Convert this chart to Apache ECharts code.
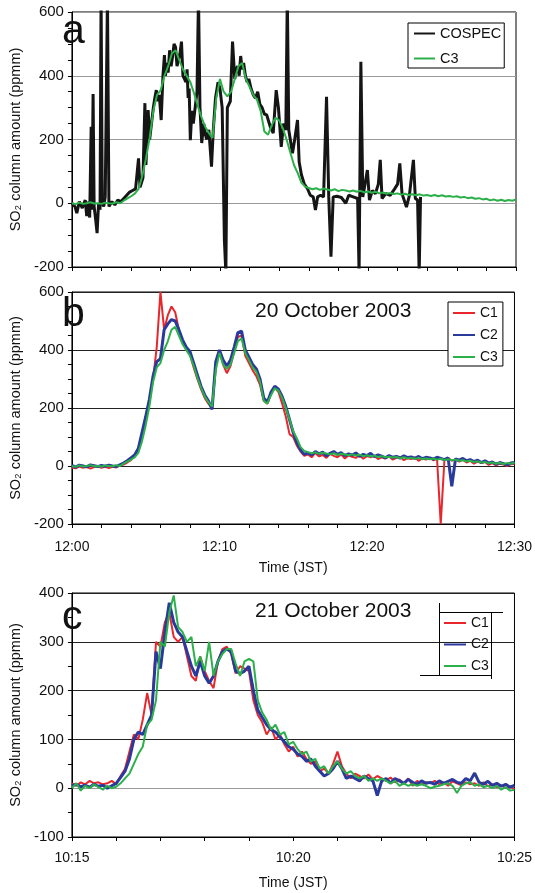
<!DOCTYPE html>
<html><head><meta charset="utf-8">
<script src="https://cdn.jsdelivr.net/npm/echarts@6/dist/echarts.min.js"></script>
<style>html,body{margin:0;padding:0;background:#fff}#c{width:535px;height:893px}</style>
</head><body><div id="c"></div>
<script>
// ---- 20 October 2003, minutes after 12:00, sampled every 0.25 min ----
const stepOct20 = 0.25;
const c1Oct20 = [-5,-8,-2,-6,-3,-9,-4,0,-6,-2,-7,-3,-5,2,
  5,12,20,35,60,110,165,225,300,410,600,470,520,550,530,470,430,400,385,340,300,265,235,215,200,
  350,395,350,320,345,395,445,450,380,355,330,310,280,225,215,250,270,255,215,170,110,100,70,50,35,
  40,30,45,33,38,28,42,35,30,40,26,36,32,28,38,25,34,30,36,24,30,26,33,22,28,32,20,27,24,30,18,26,22,28,20,25,
  -200,20,28,18,24,
  15,22,12,18,8,15,10,14,4,10,2,8,5,0,6,8];
const c2Oct20 = [2,-4,3,0,-3,4,1,-2,2,-1,3,0,-2,4,
  10,18,28,38,60,115,170,230,310,360,370,470,490,505,500,470,435,410,395,355,315,275,245,225,195,
  360,400,365,345,365,410,460,465,400,375,350,335,300,235,220,255,275,265,240,205,160,115,80,55,40,
  45,38,50,42,48,35,44,50,40,46,36,42,38,45,33,40,36,44,32,38,34,28,36,30,33,27,35,29,31,26,33,25,30,28,24,30,
  26,22,28,-70,24,
  20,26,18,22,15,20,12,18,10,14,6,12,8,4,10,12];
const c3Oct20 = [0,-3,2,-2,0,3,-1,0,-2,2,0,-1,3,0,
  8,15,22,30,45,85,140,205,290,340,355,400,430,470,480,450,420,400,380,345,305,270,240,220,205,
  330,390,350,335,350,390,430,440,390,365,340,325,290,225,215,245,268,260,235,200,160,120,95,65,52,
  48,44,47,42,46,43,40,44,38,42,40,37,40,36,39,34,37,33,36,31,34,30,32,29,31,27,30,26,28,25,28,24,26,23,26,22,
  25,21,23,20,22,
  18,20,16,18,14,16,12,14,9,12,8,11,7,10,8,12];
// COSPEC (panel a), irregular times (minutes after 12:00)
const cospecTime = [0,0.2,0.33,0.5,0.7,0.9,1.0,1.1,1.2,1.3,1.35,1.43,1.5,1.6,1.7,1.8,1.9,1.97,2.05,2.15,2.25,2.4,2.5,2.7,2.9,3.1,3.3,3.5,3.7,3.9,4.1,4.3,
  4.5,4.6,4.8,4.93,5.0,5.15,5.25,5.4,5.5,5.6,5.7,5.8,5.9,6.03,6.15,6.25,6.32,6.4,6.5,6.6,6.7,6.8,6.9,7.0,7.1,7.2,7.3,7.4,7.5,7.6,7.7,7.78,7.85,7.92,8.0,8.1,8.2,8.3,8.45,8.55,8.65,8.77,8.9,9.0,9.1,9.25,9.43,9.55,9.7,9.87,
  10.0,10.15,10.3,10.4,10.5,10.7,10.85,11.0,11.1,11.2,11.3,11.4,11.5,11.6,11.72,11.84,11.95,12.1,12.25,12.4,12.55,12.7,12.85,13.0,13.16,13.4,13.6,13.8,13.95,14.14,14.3,14.45,14.55,14.65,14.9,15.05,15.24,15.35,15.5,15.7,15.9,
  16.1,16.3,16.45,16.6,16.8,17.0,17.2,17.35,17.5,17.65,17.9,18.2,18.5,18.7,19.0,19.3,19.4,19.52,19.65,19.8,19.96,20.1,20.3,20.5,20.7,20.83,20.95,21.2,21.5,21.8,22.0,22.15,22.3,22.6,22.8,23.07,23.2,23.35,23.46,23.55];
const cospecValue = [0,-10,-31,5,-15,10,-40,5,-45,240,-20,343,-10,-50,-94,0,-20,650,0,-10,20,650,-10,5,-5,10,5,15,25,35,40,45,
  141,50,80,314,120,292,200,260,300,330,355,320,340,261,400,465,400,440,410,480,430,460,500,490,430,450,470,507,400,390,380,420,330,360,198,290,250,250,350,650,300,189,250,220,200,230,115,230,330,380,
  360,300,-115,-220,300,320,507,390,420,430,400,462,420,440,400,380,390,360,340,330,350,310,300,280,277,240,220,355,300,177,250,230,650,230,157,200,261,130,90,60,47,
  25,20,-21,20,25,20,334,20,-168,20,22,18,0,25,20,15,-220,444,20,60,104,10,40,30,60,136,15,30,25,45,60,125,30,-12,25,136,15,10,-220,20];

// ---- 21 October 2003, minutes after 10:15, sampled every 0.1 min ----
const stepOct21 = 0.1;
const c1Oct21 = [10,5,12,8,15,10,12,8,10,15,8,
  25,40,75,110,100,140,195,150,300,290,
  340,360,310,300,310,270,230,220,270,240,
  220,205,260,285,290,275,235,250,245,240,
  180,150,135,110,125,100,110,90,75,85,
  65,75,60,50,55,35,40,30,50,75,
  45,30,20,30,25,20,28,18,25,20,
  15,22,12,18,10,20,5,15,8,12,
  10,15,8,12,5,14,10,6,12,8,
  10,5,12,4,8,2,6,0,4,-2];
const c2Oct21 = [5,8,3,6,2,8,4,6,0,5,10,
  22,35,60,100,115,110,130,150,280,245,
  320,380,340,320,310,280,250,230,260,230,
  215,230,260,280,285,280,240,235,240,250,
  200,160,145,130,120,115,105,95,85,80,
  70,65,55,60,45,35,25,30,40,55,
  40,20,25,20,15,25,20,15,-15,15,
  20,10,20,15,10,18,12,8,15,10,
  12,8,15,10,14,18,12,10,20,15,
  31,12,8,14,6,10,4,8,2,6];
const c3Oct21 = [0,10,-5,5,0,8,2,-3,5,0,3,
  10,20,30,50,70,85,130,140,180,300,
  290,360,395,330,320,300,310,250,270,240,
  300,230,260,275,285,285,255,230,260,265,
  260,180,155,140,120,130,110,115,90,95,
  80,70,75,55,60,40,45,30,45,55,
  40,30,35,25,20,25,15,20,15,20,
  15,10,15,5,10,5,8,5,8,5,
  0,3,5,8,10,5,-10,5,10,12,
  5,8,2,5,0,5,-3,2,-5,-3];

const yTicksTop = [-200, 600, 200];   // min, max, interval (panels a, b)
const yTicksBottom = [-100, 400, 100]; // panel c

const FONT = '"Liberation Sans", Arial, sans-serif';
const RED = '#e8262b', BLUE = '#2a3a9c', GREEN = '#2bb04a', BLACK = '#151515';

function toPairs(vals, step) { return vals.map((v, i) => [Math.round(i * step * 100) / 100, v]); }
const cospecPairs = cospecTime.map((t, i) => [t, cospecValue[i]]);

function line(name, data, idx, color, width, z) {
  return { type: 'line', name, xAxisIndex: idx, yAxisIndex: idx, data, symbol: 'none', showSymbol: false,
    lineStyle: { color, width }, itemStyle: { color }, z, animation: false, clip: true };
}

const pad = n => String(n).padStart(2, '0');
function xAxis(idx, max, interval, fmt, labelMargin, nameGap) {
  return { gridIndex: idx, type: 'value', min: 0, max, interval,
    axisLine: { show: true, onZero: false, lineStyle: { color: '#000', width: 1 } },
    axisTick: { show: true, length: 4, lineStyle: { color: '#000' } },
    axisLabel: fmt ? { show: true, formatter: fmt, color: '#111', fontSize: 14, fontFamily: FONT, margin: labelMargin } : { show: false },
    splitLine: { show: false },
    name: fmt ? 'Time (JST)' : '', nameLocation: 'middle', nameGap: nameGap,
    nameTextStyle: { color: '#111', fontSize: 14, fontFamily: FONT } };
}
function yAxis(idx, ticks, splitColor) {
  return { gridIndex: idx, type: 'value', min: ticks[0], max: ticks[1], interval: ticks[2],
    axisLine: { show: true, onZero: false, lineStyle: { color: '#000', width: 1 } },
    axisTick: { show: true, length: 4, lineStyle: { color: '#000' } },
    minorTick: { show: true, splitNumber: ticks[2] === 200 ? 4 : 2, length: 4, lineStyle: { color: '#000' } },
    axisLabel: { color: '#111', fontSize: 15, fontFamily: FONT, margin: 8 },
    splitLine: { show: true, lineStyle: { color: splitColor, width: 1 } },
    name: 'SO\u2082 column amount (ppmm)', nameLocation: 'middle', nameGap: 37,
    nameTextStyle: { color: '#111', fontSize: 14.5, fontFamily: FONT } };
}

const hiddenSymbol = { color: 'rgba(0,0,0,0)', borderColor: 'rgba(0,0,0,0)', borderWidth: 0 };

const chart = echarts.init(document.getElementById('c'), null, { renderer: 'canvas' });
const gridBase = { left: 60, width: 456, show: true, borderColor: '#000', borderWidth: 1, containLabel: false };
chart.setOption({
  animation: false,
  backgroundColor: '#fff',
  grid: [
    Object.assign({ top: 12, height: 255 }, gridBase),
    Object.assign({ top: 292, height: 232 }, gridBase),
    Object.assign({ top: 593, height: 244 }, gridBase)
  ],
  xAxis: [
    xAxis(0, 30, 2, null, 0, 0),
    xAxis(1, 30, 2, v => (v % 10 === 0 ? '12:' + pad(v) : ''), 16, 37),
    xAxis(2, 10, 1, v => (v % 5 === 0 ? '10:' + pad(15 + v) : ''), 14, 39)
  ],
  yAxis: [
    yAxis(0, yTicksTop, '#9a9a9a'),
    yAxis(1, yTicksTop, '#222'),
    yAxis(2, yTicksBottom, ['#222', '#9a9a9a', '#222', '#222', '#222', '#222'])
  ],
  legend: [
    { data: ['COSPEC', 'C3'], orient: 'vertical', left: 408, top: 23, padding: [3, 3, 2, 5], itemGap: 10,
      itemWidth: 21, itemHeight: 14, borderColor: '#000', borderWidth: 1, backgroundColor: '#fff',
      itemStyle: hiddenSymbol,
      textStyle: { fontSize: 14.5, color: '#111', fontFamily: FONT }, selectedMode: false },
    { data: ['C1', 'C2', 'C3'], orient: 'vertical', left: 448, top: 302, padding: [4, 5, 2, 4], itemGap: 8,
      itemWidth: 22, itemHeight: 14, borderColor: '#000', borderWidth: 1, backgroundColor: '#fff',
      itemStyle: hiddenSymbol,
      textStyle: { fontSize: 14, color: '#111', fontFamily: FONT }, selectedMode: false },
    { data: ['C1', 'C2', 'C3'], orient: 'vertical', left: 443, top: 616, padding: 0, itemGap: 7.5,
      itemWidth: 22, itemHeight: 14, itemStyle: hiddenSymbol,
      textStyle: { fontSize: 14, color: '#111', fontFamily: FONT }, selectedMode: false }
  ],
  series: [
    line('COSPEC', cospecPairs, 0, BLACK, 3, 2),
    line('C3', toPairs(c3Oct20, stepOct20), 0, GREEN, 2, 3),
    line('C1', toPairs(c1Oct20, stepOct20), 1, RED, 2, 2),
    line('C2', toPairs(c2Oct20, stepOct20), 1, BLUE, 3, 3),
    line('C3', toPairs(c3Oct20, stepOct20), 1, GREEN, 2, 4),
    line('C1', toPairs(c1Oct21, stepOct21), 2, RED, 2, 2),
    line('C2', toPairs(c2Oct21, stepOct21), 2, BLUE, 3, 3),
    line('C3', toPairs(c3Oct21, stepOct21), 2, GREEN, 2, 4)
  ],
  graphic: [
    { type: 'text', x: 62, y: 32, style: { text: 'a', fontSize: 41, fontFamily: FONT, fill: '#111', verticalAlign: 'middle' }, z: 10 },
    { type: 'text', x: 62, y: 315, style: { text: 'b', fontSize: 41, fontFamily: FONT, fill: '#111', verticalAlign: 'middle' }, z: 10 },
    { type: 'text', x: 62, y: 618, style: { text: 'c', fontSize: 41, fontFamily: FONT, fill: '#111', verticalAlign: 'middle' }, z: 10 },
    { type: 'text', x: 255, y: 311, style: { text: '20 October 2003', fontSize: 21, fontFamily: FONT, fill: '#111', verticalAlign: 'middle' }, z: 10 },
    { type: 'text', x: 255, y: 611, style: { text: '21 October 2003', fontSize: 21, fontFamily: FONT, fill: '#111', verticalAlign: 'middle' }, z: 10 },
    { type: 'line', shape: { x1: 439.5, y1: 603, x2: 439.5, y2: 676 }, style: { stroke: '#000', lineWidth: 1 }, z: 10 },
    { type: 'line', shape: { x1: 439, y1: 612.5, x2: 503, y2: 612.5 }, style: { stroke: '#000', lineWidth: 1 }, z: 10 },
    { type: 'line', shape: { x1: 491.5, y1: 612, x2: 491.5, y2: 679 }, style: { stroke: '#000', lineWidth: 1 }, z: 10 },
    { type: 'line', shape: { x1: 420, y1: 675.5, x2: 492, y2: 675.5 }, style: { stroke: '#000', lineWidth: 1 }, z: 10 }
  ]
});
</script>
</body></html>
